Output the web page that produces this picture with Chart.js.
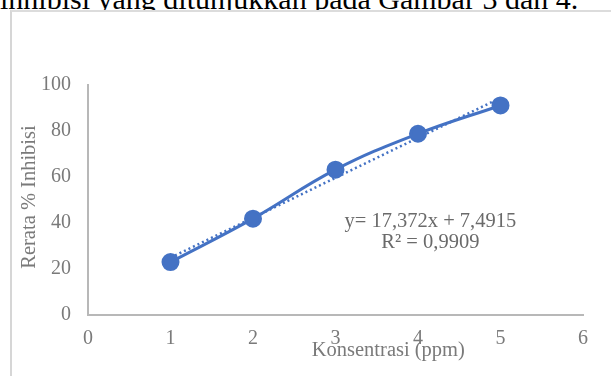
<!DOCTYPE html>
<html>
<head>
<meta charset="utf-8">
<script src="https://cdn.jsdelivr.net/npm/chart.js@4.4.0/dist/chart.umd.min.js"></script>
<style>
  html, body { margin: 0; padding: 0; background: #fff; width: 611px; height: 376px; overflow: hidden; }
  #pagetext { position: absolute; left: 0px; top: -16px; font-family: "Liberation Serif", "Times New Roman", serif; font-size: 30px; line-height: 30px; color: #000; white-space: nowrap; z-index: 1; }
  #frame { position: absolute; left: 10px; top: 10px; width: 605px; height: 370px; border-left: 2px solid #d6d6d6; border-top: 2px solid #dcdcdc; background: #fff; z-index: 2; }
  #wrap { position: absolute; left: 0; top: 0; width: 611px; height: 376px; z-index: 3; }
</style>
</head>
<body>
<div id="pagetext">inhibisi yang ditunjukkan pada Gambar 3 dan 4.</div>
<div id="frame"></div>
<div id="wrap"><canvas id="c" width="611" height="376"></canvas></div>
<script>
// ---- data ----
const concentrations = [1, 2, 3, 4, 5];
const inhibition = [23.0, 41.9, 63.2, 78.8, 91.1];
const trendX = [1, 5];
const trendY = [24.9, 94.4];
const xTicks = [0, 1, 2, 3, 4, 5, 6];
const yTicks = [0, 20, 40, 60, 80, 100];
const equationLines = ["y= 17,372x + 7,4915", "R\u00B2 = 0,9909"];
const xTitle = "Konsentrasi (ppm)";
const yTitle = "Rerata % Inhibisi";

const serif = '"Liberation Serif", "Times New Roman", serif';
const blue = '#4472C4';
const gray = '#7a7a7a';

const textPlugin = {
  id: 'texts',
  afterDraw(chart) {
    const ctx = chart.ctx;
    const xs = chart.scales.x, ys = chart.scales.y;
    ctx.save();
    ctx.fillStyle = '#6a6a6a';
    ctx.font = '20.5px ' + serif;
    ctx.textAlign = 'center';
    ctx.textBaseline = 'middle';
    ctx.fillText(equationLines[0], xs.getPixelForValue(4.15), ys.getPixelForValue(40.4));
    ctx.fillText(equationLines[1], xs.getPixelForValue(4.15), ys.getPixelForValue(31.3));
    ctx.fillStyle = gray;
    ctx.font = '20.5px ' + serif;
    ctx.fillText(xTitle, xs.getPixelForValue(3.64), 351);
    ctx.translate(30, ys.getPixelForValue(50) - 3);
    ctx.rotate(-Math.PI / 2);
    ctx.fillText(yTitle, 0, 0);
    ctx.restore();
  }
};

new Chart(document.getElementById('c'), {
  type: 'scatter',
  data: {
    datasets: [
      {
        label: 'Rerata',
        data: concentrations.map((x, i) => ({ x: x, y: inhibition[i] })),
        showLine: true,
        borderColor: blue,
        backgroundColor: blue,
        borderWidth: 3,
        tension: 0.4,
        pointRadius: 7.5,
        pointHoverRadius: 7.5,
        order: 1
      },
      {
        label: 'Trend',
        data: trendX.map((x, i) => ({ x: x, y: trendY[i] })),
        showLine: true,
        borderColor: blue,
        borderWidth: 2.5,
        borderDash: [2, 3],
        pointRadius: 0,
        order: 2
      }
    ]
  },
  options: {
    responsive: false,
    animation: false,
    events: [],
    layout: { padding: { left: 0, right: 28, top: 85, bottom: 0 } },
    plugins: { legend: { display: false }, tooltip: { enabled: false } },
    scales: {
      x: {
        type: 'linear',
        min: 0, max: 6,
        afterBuildTicks: s => { s.ticks = xTicks.map(v => ({ value: v })); },
        afterFit: s => { s.height = 61; },
        grid: { display: false, drawTicks: false },
        border: { display: true, color: '#b8b8b8', width: 2 },
        ticks: { color: gray, font: { family: serif, size: 20 }, padding: 12 }
      },
      y: {
        type: 'linear',
        min: 0, max: 100,
        afterBuildTicks: s => { s.ticks = yTicks.map(v => ({ value: v })); },
        afterFit: s => { s.width = 88; },
        grid: { display: false, drawTicks: false },
        border: { display: true, color: '#b8b8b8', width: 2 },
        ticks: { color: gray, font: { family: serif, size: 20 }, padding: 17 }
      }
    }
  },
  plugins: [textPlugin]
});
</script>
</body>
</html>
